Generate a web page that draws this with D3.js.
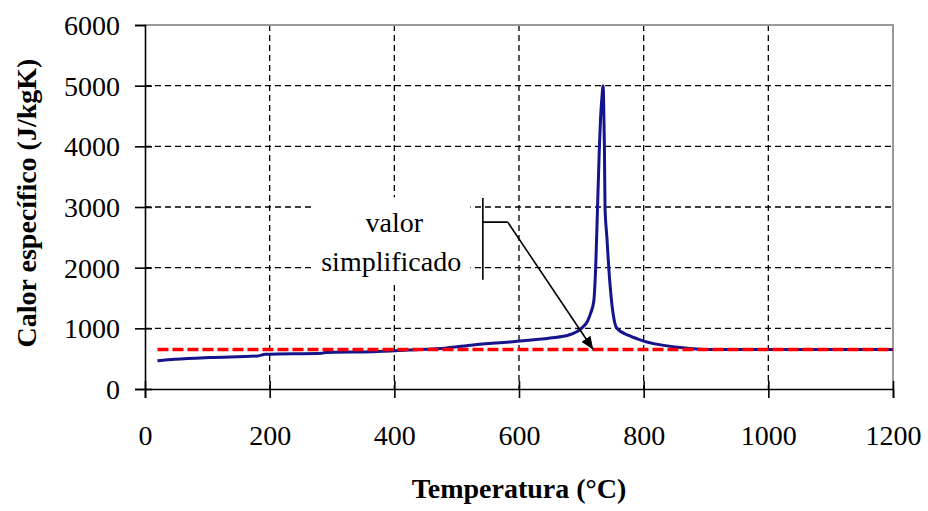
<!DOCTYPE html>
<html lang="pt">
<head>
    <meta charset="UTF-8">
    <title>Calor específico</title>
    <script src="https://d3js.org/d3.v7.min.js"></script>
    <style>
        body { margin: 0; background: #fff; }
        svg text { font-family: "Liberation Serif", "Times New Roman", serif; fill: #000; }
        .tick-label { font-size: 28px; }
        .axis-title { font-size: 28px; font-weight: bold; }
        .note { font-size: 28px; }
    </style>
</head>
<body>
    <div id="chart"></div>
    <script>
        // Data
        const temps = [20, 48, 104, 181, 193, 284, 289, 364, 422, 484, 526, 590, 650, 680, 700, 710, 715, 720, 723, 726, 729, 731, 733, 735, 736, 737, 738, 741, 744, 748, 757, 778, 800, 847, 893, 900, 1200];
        const heat  = [465, 490, 520, 545, 572, 590, 600, 615, 643, 676, 725, 780, 840, 890, 1000, 1120, 1250, 1450, 2000, 3000, 4000, 4500, 4800, 5000, 4600, 4000, 3000, 2500, 2000, 1500, 1000, 874, 790, 697, 655, 650, 650];
        const simplifiedT = [20, 1200];
        const simplifiedValue = [650, 650];
        const xTicks = [0, 200, 400, 600, 800, 1000, 1200];
        const yTicks = [0, 1000, 2000, 3000, 4000, 5000, 6000];

        // Dimensions
        const width = 928;
        const height = 511;
        const margin = { top: 25, right: 35, bottom: 122, left: 145 };
        const innerW = width - margin.left - margin.right;
        const innerH = height - margin.top - margin.bottom;

        const x = d3.scaleLinear().domain([0, 1200]).range([0, innerW]);
        const y = d3.scaleLinear().domain([0, 6000]).range([innerH, 0]);

        const svg = d3.select("#chart")
            .append("svg")
            .attr("width", width)
            .attr("height", height);

        const g = svg.append("g")
            .attr("transform", `translate(${margin.left},${margin.top})`);

        // Grid lines
        g.selectAll(".hgrid")
            .data(yTicks.slice(1, -1))
            .join("line")
            .attr("x1", 0).attr("x2", innerW)
            .attr("y1", d => y(d)).attr("y2", d => y(d))
            .attr("stroke", "#000")
            .attr("stroke-width", 1.3)
            .attr("stroke-dasharray", "6,4");

        g.selectAll(".vgrid")
            .data(xTicks.slice(1, -1))
            .join("line")
            .attr("x1", d => x(d)).attr("x2", d => x(d))
            .attr("y1", 0).attr("y2", innerH)
            .attr("stroke", "#000")
            .attr("stroke-width", 1.3)
            .attr("stroke-dasharray", "6,4");

        // Border top / right
        g.append("path")
            .attr("d", `M0,0H${innerW}V${innerH}`)
            .attr("fill", "none")
            .attr("stroke", "#999")
            .attr("stroke-width", 2);

        // White box behind the note
        g.append("rect")
            .attr("x", x(268)).attr("y", y(3160))
            .attr("width", x(522) - x(268))
            .attr("height", y(1740) - y(3160))
            .attr("fill", "#fff");

        // Axes
        const yAxis = g.append("g")
            .call(d3.axisLeft(y).tickValues(yTicks).tickSize(10).tickFormat(d3.format("d")));
        const xAxis = g.append("g")
            .attr("transform", `translate(0,${innerH})`)
            .call(d3.axisBottom(x).tickValues(xTicks).tickSize(9).tickFormat(d3.format("d")));

        [yAxis, xAxis].forEach(a => {
            a.select(".domain").attr("stroke", "#000").attr("stroke-width", 1.6);
            a.selectAll(".tick line").attr("stroke", "#000").attr("stroke-width", 1.6);
            a.selectAll("text").attr("class", "tick-label").attr("fill", "#000");
        });
        yAxis.selectAll(".tick line").attr("x1", 7);
        yAxis.selectAll("text").attr("x", -25).attr("dy", "0.34em");
        xAxis.selectAll(".tick line").attr("y1", -8);
        xAxis.selectAll("text").attr("y", 56).attr("dy", 0);
        yAxis.selectAll(".tick").filter(d => d === 6000).select("line").attr("x1", 0);

        const line = d3.line()
            .x(d => x(d[0]))
            .y(d => y(d[1]));

        // Specific heat curve (blue)
        g.append("path")
            .datum(d3.zip(temps, heat))
            .attr("d", line.curve(d3.curveMonotoneX))
            .attr("fill", "none")
            .attr("stroke", "#14148c")
            .attr("stroke-width", 3)
            .attr("stroke-linejoin", "round");

        // Simplified value (red dashed)
        g.append("path")
            .datum(d3.zip(simplifiedT, simplifiedValue))
            .attr("d", line.curve(d3.curveLinear))
            .attr("fill", "none")
            .attr("stroke", "#ff0000")
            .attr("stroke-width", 3.5)
            .attr("stroke-dasharray", "11,4");

        // Annotation
        g.append("text").attr("class", "note")
            .attr("x", x(400)).attr("y", y(2580))
            .attr("text-anchor", "middle")
            .text("valor");
        g.append("text").attr("class", "note")
            .attr("x", x(395)).attr("y", y(1950))
            .attr("text-anchor", "middle")
            .text("simplificado");

        g.append("path")
            .attr("d", `M${x(542)},${y(3150)}V${y(1800)}M${x(542)},${y(2750)}H${x(582)}`)
            .attr("fill", "none")
            .attr("stroke", "#000")
            .attr("stroke-width", 1.6);

        svg.append("defs").append("marker")
            .attr("id", "arrow")
            .attr("viewBox", "0 0 12 10")
            .attr("refX", 12).attr("refY", 5)
            .attr("markerWidth", 13).attr("markerHeight", 11)
            .attr("markerUnits", "userSpaceOnUse")
            .attr("orient", "auto")
            .append("path")
            .attr("d", "M0,0L12,5L0,10Z")
            .attr("fill", "#000");

        g.append("line")
            .attr("x1", x(582)).attr("y1", y(2750))
            .attr("x2", x(719)).attr("y2", y(650))
            .attr("stroke", "#000")
            .attr("stroke-width", 1.6)
            .attr("marker-end", "url(#arrow)");

        // Axis titles
        svg.append("text").attr("class", "axis-title")
            .attr("x", 519).attr("y", 498)
            .attr("text-anchor", "middle")
            .text("Temperatura (°C)");
        svg.append("text").attr("class", "axis-title")
            .attr("transform", "translate(36,203) rotate(-90)")
            .attr("text-anchor", "middle")
            .text("Calor específico (J/kgK)");
    </script>
</body>
</html>
